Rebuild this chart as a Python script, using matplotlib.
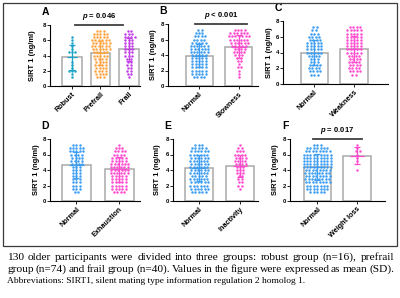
import numpy as np
import matplotlib.pyplot as plt
from matplotlib.patches import Rectangle

plt.rcParams['font.family'] = ['Liberation Sans', 'DejaVu Sans']
plt.rcParams['mathtext.fontset'] = 'custom'
plt.rcParams['mathtext.it'] = 'Liberation Sans:italic:bold'

W, H = 400, 298

# value rows (ng/ml) used to bin the dots, like a GraphPad scatter-dot plot
levels = [1.2, 1.6, 2.0, 2.4, 2.8, 3.2, 3.6, 4.0, 4.4, 4.8, 5.2, 5.6, 6.0, 6.4, 6.8, 7.2]

# A: frailty groups
cats_a = ['Robust', 'Prefrail', 'Frail']
robust = [1, 1, 3, 1, 1, 1, 0, 0, 3, 1, 1, 1, 1, 1, 0, 0]
prefrail = [3, 4, 4, 4, 4, 4, 4, 5, 5, 6, 6, 6, 6, 5, 5, 3]
frail = [1, 2, 2, 2, 2, 2, 2, 3, 3, 3, 3, 3, 3, 4, 3, 2]
mean_a = [3.75, 4.35, 4.8]
sd_a = [1.6, 1.6, 1.55]

# B: slowness
cats_b = ['Normal', 'Slowness']
normal_b = [4, 5, 5, 5, 5, 5, 5, 5, 6, 6, 6, 5, 4, 4, 3, 2]
slowness = [1, 1, 1, 2, 1, 2, 2, 3, 4, 4, 5, 6, 6, 7, 6, 4]
mean_b = [3.93, 5.07]
sd_b = [1.45, 1.45]

# C: weakness
cats_c = ['Normal', 'Weakness']
normal_c = [3, 4, 4, 4, 3, 3, 4, 5, 5, 5, 5, 4, 4, 3, 2, 2]
weakness = [2, 4, 4, 4, 4, 4, 4, 5, 5, 5, 5, 5, 5, 5, 5, 4]
mean_c = [4.0, 4.5]
sd_c = [1.6, 1.65]

# D: exhaustion
cats_d = ['Normal', 'Exhaustion']
normal_d = [2, 3, 3, 3, 3, 3, 3, 3, 3, 4, 4, 4, 4, 5, 5, 3]
exhaustion = [4, 5, 5, 5, 5, 5, 6, 6, 6, 6, 5, 5, 4, 4, 3, 1]
mean_d = [4.62, 4.1]
sd_d = [1.7, 1.6]

# E: inactivity
cats_e = ['Normal', 'Inactivity']
normal_e = [5, 6, 6, 6, 6, 5, 6, 6, 6, 6, 6, 6, 6, 6, 5, 3]
inactivity = [0, 1, 2, 2, 2, 2, 3, 3, 3, 4, 4, 4, 4, 3, 2, 1]
mean_e = [4.22, 4.5]
sd_e = [1.7, 1.4]

# F: weight loss
cats_f = ['Normal', 'Weight loss']
normal_f = [5, 7, 7, 8, 8, 8, 8, 8, 9, 9, 9, 9, 9, 8, 7, 3]
weight_loss = [0, 0, 0, 0, 0, 0, 0, 1, 0, 0, 1, 1, 1, 2, 1, 1]
mean_f = [4.35, 5.85]
sd_f = [1.7, 1.1]

teal, orange, purple = '#1aa3c8', '#ffa545', '#c23ee6'
blue, pink = '#3d9df2', '#ff4ccf'

caption = [
    '130 older participants were divided into three groups: robust group (n=16), prefrail',
    'group (n=74) and frail group (n=40). Values in the figure were expressed as mean (SD).',
    'Abbreviations: SIRT1, silent mating type information regulation 2 homolog 1.',
]

fig = plt.figure(figsize=(W / 100, H / 100), dpi=100)


def panel(box, xlim, letter, cats, counts, means, sds, colors, ylab_x, pval=None, pspan=None):
    l, r, t, b = box
    ax = fig.add_axes([l / W, 1 - b / H, (r - l) / W, (b - t) / H])
    ppu = (r - l) / (xlim[1] - xlim[0])
    dx = 3.4 / ppu
    for i, (cnt, m, s, c) in enumerate(zip(counts, means, sds, colors)):
        ax.bar(i, m, width=0.68, color='white', edgecolor='#a9a9a9', lw=1.1, zorder=1)
        xs, ys = [], []
        for row, (lv, n) in enumerate(zip(levels, cnt)):
            off = (np.arange(n) - (n - 1) / 2) * dx
            if n % 2 == 0 and row % 2 == 1:
                off = off + dx / 4
            xs += list(i + off)
            ys += [lv] * n
        ax.scatter(xs, ys, s=3.2, color=c, lw=0, zorder=2)
        ax.errorbar(i, m, yerr=s, color=c, capsize=2.5, lw=0.9, capthick=0.9, zorder=3)
        ax.hlines(m, i - 0.18, i + 0.18, color=c, lw=0.9, zorder=3)
    ax.set_xlim(*xlim)
    ax.set_ylim(0, 8)
    ax.set_yticks([0, 2, 4, 6, 8])
    ax.set_xticks(range(len(cats)))
    ax.set_xticklabels(cats, rotation=45, ha='right', va='top', rotation_mode='anchor',
                       fontsize=5.2, fontweight='bold')
    ax.tick_params(axis='y', labelsize=4.3, length=2, width=0.6, pad=1)
    ax.tick_params(axis='x', length=2, width=0.6, pad=1.5)
    for lab in ax.get_yticklabels():
        lab.set_fontweight('bold')
    for sp in ['top', 'right']:
        ax.spines[sp].set_visible(False)
    for sp in ['left', 'bottom']:
        ax.spines[sp].set_linewidth(0.8)
    ax.set_ylabel('SIRT 1 (ng/ml)', fontsize=5.4, fontweight='bold')
    ax.yaxis.set_label_coords(ylab_x, 1 - (t + b) / 2 / H, transform=fig.transFigure)
    ax.text(l / W - 0.012, 1 - (t - 13) / H, letter, transform=fig.transFigure,
            fontsize=7.5, fontweight='bold', ha='center', va='center')
    if pval:
        ax.plot(pspan, [8.05, 8.05], color='#404040', lw=1.3, clip_on=False)
        ax.text(sum(pspan) / 2, 8.35, pval, ha='center', va='bottom', fontsize=5.5,
                fontweight='bold')
    return ax


panel((50, 140, 25, 86), (-0.77, 2.39), 'A', cats_a, [robust, prefrail, frail],
      mean_a, sd_a, [teal, orange, purple], 36 / W, r'$p$ = 0.046', [0.1, 1.8])
panel((168, 258, 24, 86), (-0.78, 1.48), 'B', cats_b, [normal_b, slowness],
      mean_b, sd_b, [blue, pink], 157 / W, r'$p$ < 0.001', [-0.1, 1.2])
panel((283, 388, 21, 84), (-0.78, 1.85), 'C', cats_c, [normal_c, weakness],
      mean_c, sd_c, [blue, pink], 273 / W)
panel((50, 140, 139, 201), (-0.62, 1.49), 'D', cats_d, [normal_d, exhaustion],
      mean_d, sd_d, [blue, pink], 40 / W)
panel((173, 258, 139, 201), (-0.63, 1.44), 'E', cats_e, [normal_e, inactivity],
      mean_e, sd_e, [blue, pink], 161 / W)
panel((290, 385, 139, 201), (-0.68, 1.7), 'F', cats_f, [normal_f, weight_loss],
      mean_f, sd_f, [blue, pink], 279 / W, r'$p$ = 0.017', [-0.1, 1.12])

fig.add_artist(Rectangle((3 / W, 1 - 246 / H), 394 / W, 243 / H, transform=fig.transFigure,
                         fill=False, lw=0.9, ec='#3a3a3a'))

# caption, first two lines justified, last line a little narrower as in the source
renderer = fig.canvas.get_renderer()
x0, x1 = 7, 394
for k, line in enumerate(caption):
    y = 1 - (257 + 12.2 * k) / H
    if k == len(caption) - 1:
        fig.text(x0 / W, y, line, fontsize=6.8, family='Liberation Serif', va='center')
        continue
    words = [fig.text(0, y, w, fontsize=8.2, family='Liberation Serif', va='center')
             for w in line.split()]
    widths = [t.get_window_extent(renderer).width for t in words]
    gap = max((x1 - x0 - sum(widths)) / (len(words) - 1), 1.5)
    x = x0
    for t, w in zip(words, widths):
        t.set_x(x / W)
        x += w + gap

fig.savefig('out.png', dpi=100)
